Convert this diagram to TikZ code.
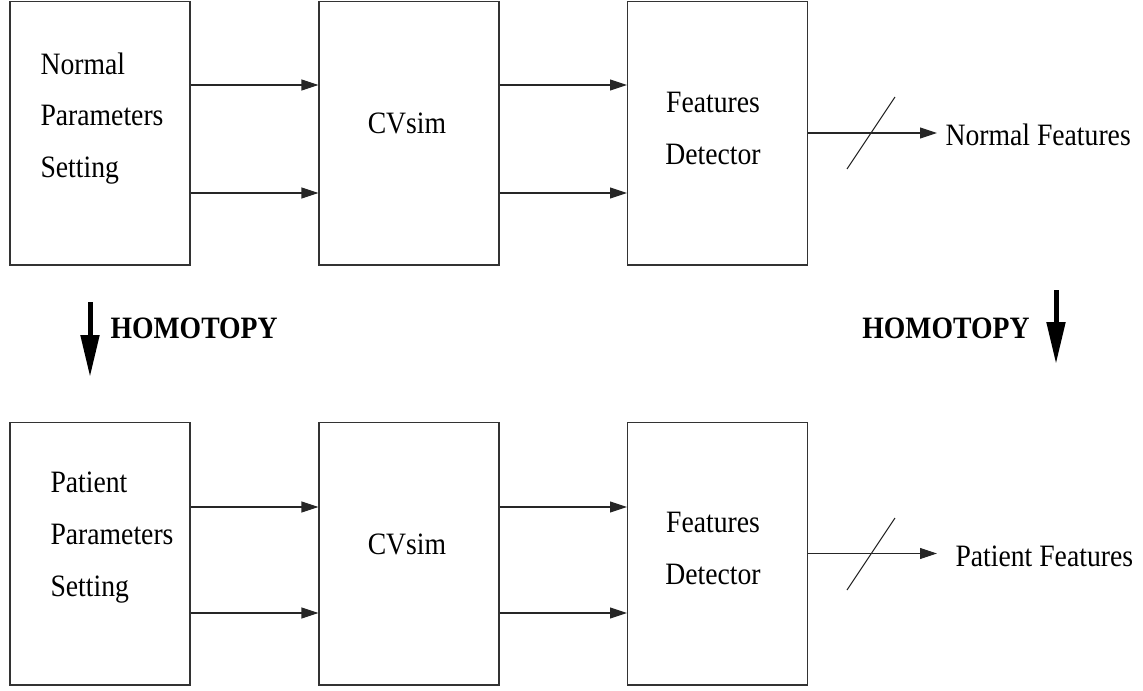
\documentclass[tikz,border=0pt]{standalone}
\usepackage{fontspec}
\setmainfont{Liberation Serif}[FakeStretch=0.89]
\usetikzlibrary{arrows.meta}
\tikzstyle{blockdiagram}=[%
    x=0.02cm, y=-0.02cm,
    every path/.style = {%
        line width=0.6pt
    },%
    every node/.style={%
        font=\fontsize{17.7pt}{29.5pt}\selectfont,
        inner sep=0pt
    },%
    block/.style={%
        draw=black!80,
        minimum width=3.6cm,
        minimum height=5.28cm
    },%
    flow/.style={%
        draw=black!85,
        -{Triangle[length=0.34cm,width=0.22cm]}
    },%
    homotopy/.style={%
        line width=0.1cm,
        -{Triangle[length=0.84cm,width=0.36cm]}
    },%
    homtext/.style={%
        font=\fontsize{17.7pt}{29.5pt}\selectfont\bfseries
    }
]

\begin{document}
\begin{tikzpicture}[blockdiagram]
	\useasboundingbox (0,0) rectangle (1143,690);

	% normal row
	\node[block] (n-par) at (100,133) {};
	\node[block] (n-sim) at (409,133) {};
	\node[block] (n-det) at (717.5,133) {};
	\node[anchor=north west, align=left] (n-partext) at (40,52) {Normal\\Parameters\\Setting};
	\node[anchor=base] (n-simtext) at (407,133) {CVsim};
	\node[anchor=north, align=center] (n-dettext) at (713,91.5) {Features\\Detector};
	\node[anchor=base west] (n-out) at (945,145) {Normal Features};

	% patient row
	\node[block, minimum height=5.26cm] (p-par) at (100,553.5) {};
	\node[block, minimum height=5.26cm] (p-sim) at (409,553.5) {};
	\node[block, minimum height=5.26cm] (p-det) at (717.5,553.5) {};
	\node[anchor=north west, align=left] (p-partext) at (50,471.6) {Patient\\Parameters\\Setting};
	\node[anchor=base] (p-simtext) at (407,554) {CVsim};
	\node[anchor=north, align=center] (p-dettext) at (713,512) {Features\\Detector};
	\node[anchor=base west] (p-out) at (955,566) {Patient Features};

	\foreach \y in {85,193} {
		\draw[flow] (n-par.east |- 0,\y) -- (n-sim.west |- 0,\y);
		\draw[flow] (n-sim.east |- 0,\y) -- (n-det.west |- 0,\y);
	}
	\foreach \y in {507,613} {
		\draw[flow] (p-par.east |- 0,\y) -- (p-sim.west |- 0,\y);
		\draw[flow] (p-sim.east |- 0,\y) -- (p-det.west |- 0,\y);
	}

	\draw[flow, shorten >=0.16cm] (n-det.east) -- (n-out.west |- n-det.east);
	\draw[flow, shorten >=0.36cm] (p-det.east) -- (p-out.west |- p-det.east);

	% bus slashes
	\coordinate (n-bus) at (871,133);
	\coordinate (p-bus) at (871,554);
	\draw[black!85] ([shift={(-24,36)}]n-bus) -- ([shift={(24,-36)}]n-bus);
	\draw[black!85] ([shift={(-24,36)}]p-bus) -- ([shift={(24,-36)}]p-bus);

	% homotopy
	\node[homtext, anchor=base west] (h-left) at (110,338) {HOMOTOPY};
	\node[homtext, anchor=base east] (h-right) at (1030,338) {HOMOTOPY};
	\coordinate (hl-top) at (90,302);
	\coordinate (hl-tip) at (90,377);
	\coordinate (hr-top) at (1056,290);
	\coordinate (hr-tip) at (1056,364);
	\draw[homotopy] (hl-top) -- (hl-tip);
	\draw[homotopy] (hr-top) -- (hr-tip);
\end{tikzpicture}
\end{document}
